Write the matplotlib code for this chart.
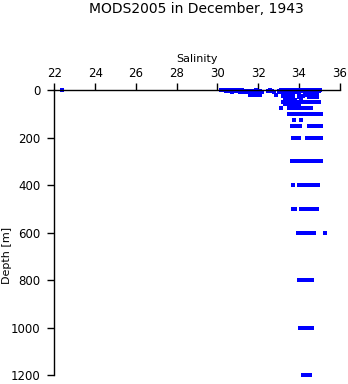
import matplotlib
matplotlib.use("Agg")
import matplotlib.pyplot as plt

# sampled depths [m] and the salinities observed at each depth
depths = [0, 5, 10, 20, 25, 30, 40, 50, 60, 75, 100, 125, 150, 200,
          300, 400, 500, 600, 800, 1000, 1200]

salinity = [
    [22.35, 30.2, 30.3, 30.45, 30.6, 30.75, 30.9, 31.05, 31.2, 31.9, 32.6,
     33.1, 33.2, 33.3, 33.4, 33.5, 33.6, 33.7, 33.8, 33.9, 34.0, 34.1, 34.3,
     34.5, 34.6, 34.7, 34.8, 34.9, 35.0, 35.05],
    [30.4, 30.6, 30.8, 31.0, 31.3, 31.5, 31.7, 32.1, 32.5, 32.7, 33.0, 33.2,
     33.3, 33.4, 33.5, 33.6, 33.7, 33.9, 34.0, 34.2, 34.6, 34.7, 34.8, 34.9,
     35.0],
    [30.7, 31.1, 31.3, 31.5, 31.6, 31.8, 32.0, 32.2, 32.8, 33.0, 33.2, 33.3,
     33.4, 33.5, 33.6, 33.8, 34.0, 34.3, 34.5, 34.6, 34.7, 34.8, 34.9],
    [31.6, 31.7, 31.9, 32.0, 32.1, 32.9, 33.2, 33.3, 33.4, 33.5, 33.6, 33.7,
     34.0, 34.4, 34.5, 34.6, 34.7, 34.8, 34.9],
    [33.2, 33.3, 33.4, 33.5, 33.6, 33.7, 34.2, 34.5, 34.6, 34.7, 34.8, 34.9],
    [33.3, 33.4, 33.5, 33.6, 34.0, 34.5, 34.6, 34.7, 34.8, 34.9],
    [33.3, 33.4, 33.5, 33.6, 33.8, 34.1],
    [33.2, 33.4, 33.5, 33.6, 33.7, 33.9, 34.2, 34.4, 34.5, 34.6, 34.7, 34.8,
     34.9, 35.0],
    [33.3, 33.5, 33.6, 33.8, 34.0],
    [33.1, 33.5, 33.6, 33.7, 33.8, 33.9, 34.0, 34.1, 34.2, 34.3, 34.4, 34.5,
     34.6],
    [33.5, 33.6, 33.7, 33.9, 34.0, 34.1, 34.2, 34.3, 34.4, 34.5, 34.6, 34.7,
     34.8, 34.9, 35.0, 35.1],
    [33.75, 34.1],
    [33.65, 33.8, 33.9, 34.05, 34.5, 34.6, 34.7, 34.8, 34.9, 35.0, 35.1],
    [33.7, 33.9, 34.0, 34.4, 34.5, 34.6, 34.7, 34.8, 34.9, 35.0, 35.1],
    [33.65, 33.75, 33.85, 33.95, 34.15, 34.25, 34.35, 34.45, 34.55, 34.65,
     34.75, 34.85, 34.95, 35.05, 35.1],
    [33.7, 34.0, 34.2, 34.3, 34.4, 34.5, 34.6, 34.7, 34.8, 34.9, 34.95],
    [33.7, 33.8, 34.1, 34.2, 34.3, 34.4, 34.5, 34.6, 34.7, 34.8, 34.9],
    [33.95, 34.05, 34.15, 34.25, 34.35, 34.45, 34.55, 34.65, 34.75, 35.3],
    [34.0, 34.1, 34.2, 34.3, 34.4, 34.5, 34.6, 34.65],
    [34.05, 34.15, 34.25, 34.35, 34.45, 34.55, 34.65],
    [34.2, 34.3, 34.4, 34.5, 34.55],
]

xticks = [22, 24, 26, 28, 30, 32, 34, 36]
yticks = [0, 200, 400, 600, 800, 1000, 1200]

plt.rcParams['font.family'] = ['DejaVu Sans']

fig = plt.figure(figsize=(3.48, 3.84), dpi=100)
ax = fig.add_axes([0.1563, 0.0234, 0.8197, 0.7422])

for d, sal in zip(depths, salinity):
    ax.plot(sal, [d] * len(sal), linestyle='none', marker='s',
            markersize=2.2, markeredgewidth=0, color='#0000ff', clip_on=False)

ax.set_xlim(22, 36)
ax.set_ylim(1200, 0)
ax.set_xticks(xticks)
ax.set_yticks(yticks)

ax.xaxis.set_ticks_position('top')
ax.xaxis.set_label_position('top')
ax.spines['right'].set_visible(False)
ax.spines['bottom'].set_visible(False)
for s in ('top', 'left'):
    ax.spines[s].set_linewidth(1.0)
ax.tick_params(direction='out', length=5, width=1.0, labelsize=8.5, colors='black')
ax.tick_params(axis='x', pad=2)
ax.tick_params(axis='y', pad=5)

ax.set_xlabel('Salinity', fontsize=8, labelpad=4)
ax.set_ylabel('Depth [m]', fontsize=8)
ax.yaxis.set_label_coords(-0.148, 0.418)

fig.text(0.565, 1 - 9 / 384, 'MODS2005 in December, 1943',
         ha='center', va='center', fontsize=10)

fig.savefig('out.png', dpi=100)
